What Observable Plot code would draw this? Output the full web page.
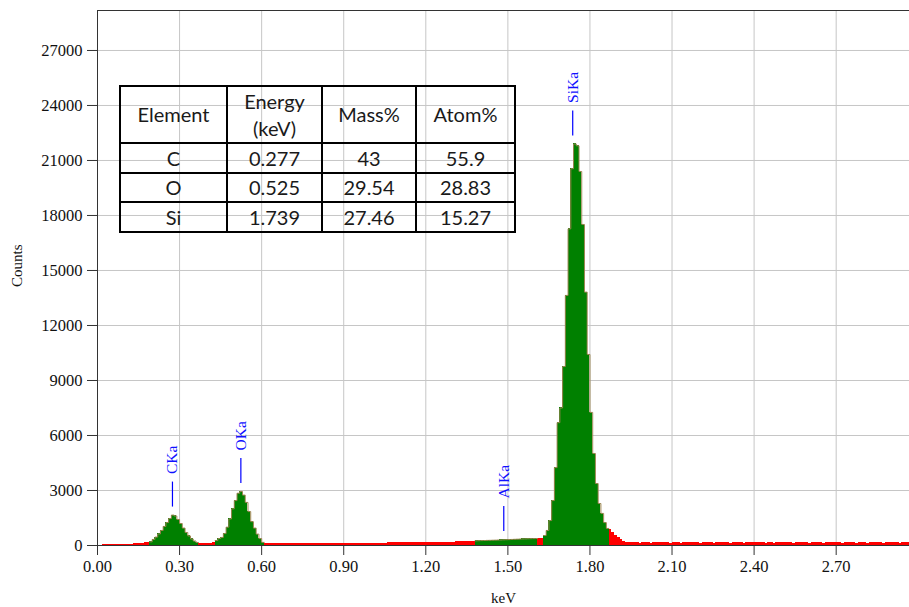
<!DOCTYPE html>
<html>
<head>
<meta charset="utf-8">
<script src="https://cdn.jsdelivr.net/npm/d3@7"></script>
<script src="https://cdn.jsdelivr.net/npm/@observablehq/plot@0.6"></script>
<style>
  body { margin: 0; background: #fff; }
  #wrap { position: relative; width: 909px; height: 607px; overflow: hidden; }
  #tbl { position: absolute; left: 119px; top: 85px; border-collapse: collapse; table-layout: fixed;
         font-family: Lato, "Open Sans", sans-serif; font-size: 20px; color: #1a1a1a; background: transparent; }
  #tbl td { border: 2px solid #000; text-align: center; vertical-align: middle; padding: 0; white-space: nowrap; }
  #tbl tr.head td { line-height: 27px; }
</style>
</head>
<body>
<div id="wrap"><div id="chart"></div><table id="tbl"></table></div>
<script>
// ---- Spectrum (counts per 0.01 keV channel) ----
const channelWidth = 0.01; // keV
// 0.00 – 0.99 keV
const countsA = [
  15, 25, 30, 35, 38, 42, 48, 52, 58, 62, 68, 72, 80, 88, 98, 110, 125, 145, 175,
  200, 330, 460, 630, 820, 1040, 1250, 1470, 1660, 1610, 1420, 1200, 950, 710, 520, 355, 245, 165,
  120, 100, 95, 105, 130, 175,
  270, 380, 440, 650, 1000, 1450, 2000, 2450, 2850, 2950, 2750, 2350, 1850, 1300, 950, 620, 380, 170,
  120, 105, 95, 90, 88, 85, 88, 84, 86, 88,
  85, 90, 88, 92, 90, 94, 92, 96, 95, 98,
  96, 100, 102, 99, 104, 106, 103, 108, 110, 108,
  112, 115, 113, 118, 120, 117, 122, 125, 123
];
// 1.00 – 1.99 keV
const countsB = [
  128, 130, 127, 133, 135, 132, 138, 140, 137, 143,
  145, 142, 148, 150, 147, 153, 156, 152, 158, 160,
  162, 165, 168, 165, 172, 175, 178, 176, 182, 185,
  188, 192, 195, 198, 202, 206, 210, 215,
  255, 262, 268, 272, 278, 282, 288, 292, 298, 302, 310, 316, 322, 330, 338, 345, 352, 358, 362, 368, 372, 376, 380,
  385, 400,
  545, 820, 1360, 2450, 4250, 6700, 7500, 9760, 13640, 17270, 20550, 21900, 21800, 20400, 17510, 13820, 10420, 7260, 5020, 3380, 2290, 1750, 1250, 930,
  870, 720, 560, 410, 300, 225, 180, 155, 142, 138, 145, 136, 140
];
// 2.00 – 2.96 keV
const countsC = [
  138, 142, 135, 140, 145, 137, 141, 139, 144, 136,
  140, 143, 138, 135, 141, 146, 139, 137, 142, 140,
  136, 141, 144, 138, 140, 135, 139, 143, 137, 141,
  139, 136, 142, 140, 145, 138, 135, 141, 139, 143,
  137, 140, 138, 144, 136, 141, 139, 135, 142, 138,
  140, 137, 143, 139, 136, 141, 138, 144, 137, 140,
  135, 139, 142, 138, 141, 136, 140, 143, 137, 139,
  141, 138, 135, 140, 142, 137, 139, 136, 143, 138,
  140, 136, 139, 141, 137, 142, 138, 135, 140, 139,
  137, 141, 138, 136, 140, 139, 137
];
// Regions of interest (green) in keV
const roiStart = [0.19, 0.43, 1.38, 1.63];
const roiEnd   = [0.37, 0.61, 1.61, 1.87];

// Peak labels
const peakNames    = ["CKa", "OKa", "AlKa", "SiKa"];
const peakEnergies = [0.274, 0.524, 1.485, 1.737];
const peakCounts   = [1660, 2950, 330, 21900];

// Axes
const xTicks = [0.00, 0.30, 0.60, 0.90, 1.20, 1.50, 1.80, 2.10, 2.40, 2.70];
const yTicks = [0, 3000, 6000, 9000, 12000, 15000, 18000, 21000, 24000, 27000];
const xMax = 2.968, yMax = 29180;

// Quantification table
const tableHeader  = ["Element", "Energy\n(keV)", "Mass%", "Atom%"];
const tableElement = ["C", "O", "Si"];
const tableEnergy  = ["0.277", "0.525", "1.739"];
const tableMass    = ["43", "29.54", "27.46"];
const tableAtom    = ["55.9", "28.83", "15.27"];

// ---- build ----
const allCounts = [...countsA, ...countsB, ...countsC];
const spectrum = allCounts.map((c, i) => {
  const e0 = i / 100, e1 = (i + 1) / 100;
  let roi = -1;
  roiStart.forEach((s, k) => { if (e0 >= s - 1e-9 && e0 < roiEnd[k] - 1e-9) roi = k; });
  return {e0, e1, c, roi};
});
const outline = [];
roiStart.forEach((s, k) => {
  const ch = spectrum.filter(d => d.roi === k);
  ch.forEach(d => outline.push({x: d.e0, y: d.c, k}));
  const last = ch[ch.length - 1];
  outline.push({x: last.e1, y: last.c, k});
});
const peaks = peakNames.map((n, i) => ({n, e: peakEnergies[i], c: peakCounts[i]}));
const cpp = yMax / 535; // counts per pixel of the y scale

const serif = "'Liberation Serif', 'Times New Roman', serif";
const chart = Plot.plot({
  width: 909, height: 607,
  marginLeft: 97, marginRight: 0, marginTop: 10, marginBottom: 62,
  x: {domain: [0, xMax]},
  y: {domain: [0, yMax]},
  style: {fontFamily: serif, fontSize: "16px", color: "#222", background: "white"},
  marks: [
    Plot.ruleX(xTicks, {stroke: "#c6c6c6"}),
    Plot.ruleY(yTicks, {stroke: "#c6c6c6"}),
    Plot.ruleY([0], {stroke: "#333"}),
    Plot.rectY(spectrum, {x1: "e0", x2: "e1", y: "c", fill: d => d.roi >= 0 ? "#008000" : "#ff0000", shapeRendering: "crispEdges", clip: true}),
    Plot.line(outline, {x: "x", y: "y", z: "k", curve: "step-after", stroke: "#9a8450", strokeWidth: 1}),
    Plot.ruleX(peaks, {x: "e", y1: "c", y2: d => d.c + 25 * cpp, dy: -8, stroke: "#0000ff", strokeWidth: 1.2}),
    Plot.text(peaks, {x: "e", y: "c", text: "n", rotate: -90, textAnchor: "start", dy: -41, fill: "#1010ff", fontSize: 15.5, fontFamily: serif}),
    Plot.ruleY([yMax], {stroke: "#333"}),
    Plot.ruleX([0], {stroke: "#333"}),
    Plot.axisX({ticks: xTicks, tickFormat: d3.format(".2f"), tickSize: 10, tickPadding: 5, label: null, stroke: "#333", fill: "#111", fontSize: 16.5, fontFamily: serif}),
    Plot.axisY({ticks: yTicks, tickFormat: d => String(d), tickSize: 10, tickPadding: 5, label: null, stroke: "#333", fill: "#111", fontSize: 16.5, fontFamily: serif}),
    Plot.text(["Counts"], {frameAnchor: "left", dx: -80, dy: 9, rotate: -90, fontSize: 15, fill: "#111"}),
    Plot.text(["keV"], {frameAnchor: "bottom", dy: 57, fontSize: 15, fill: "#111"})
  ]
});
document.getElementById("chart").appendChild(chart);

// table
const tbl = document.getElementById("tbl");
const colW = [107, 95, 94, 99];
const cg = document.createElement("colgroup");
colW.forEach(w => { const c = document.createElement("col"); c.style.width = w + "px"; cg.appendChild(c); });
tbl.appendChild(cg);
const addRow = (cells, cls, h) => {
  const tr = document.createElement("tr");
  if (cls) tr.className = cls;
  tr.style.height = h + "px";
  cells.forEach(t => {
    const td = document.createElement("td");
    td.innerHTML = String(t).replace("\n", "<br>");
    tr.appendChild(td);
  });
  tbl.appendChild(tr);
};
addRow(tableHeader, "head", 57);
tableElement.forEach((el, i) => addRow([el, tableEnergy[i], tableMass[i], tableAtom[i]], "", 29.5));
</script>
</body>
</html>
